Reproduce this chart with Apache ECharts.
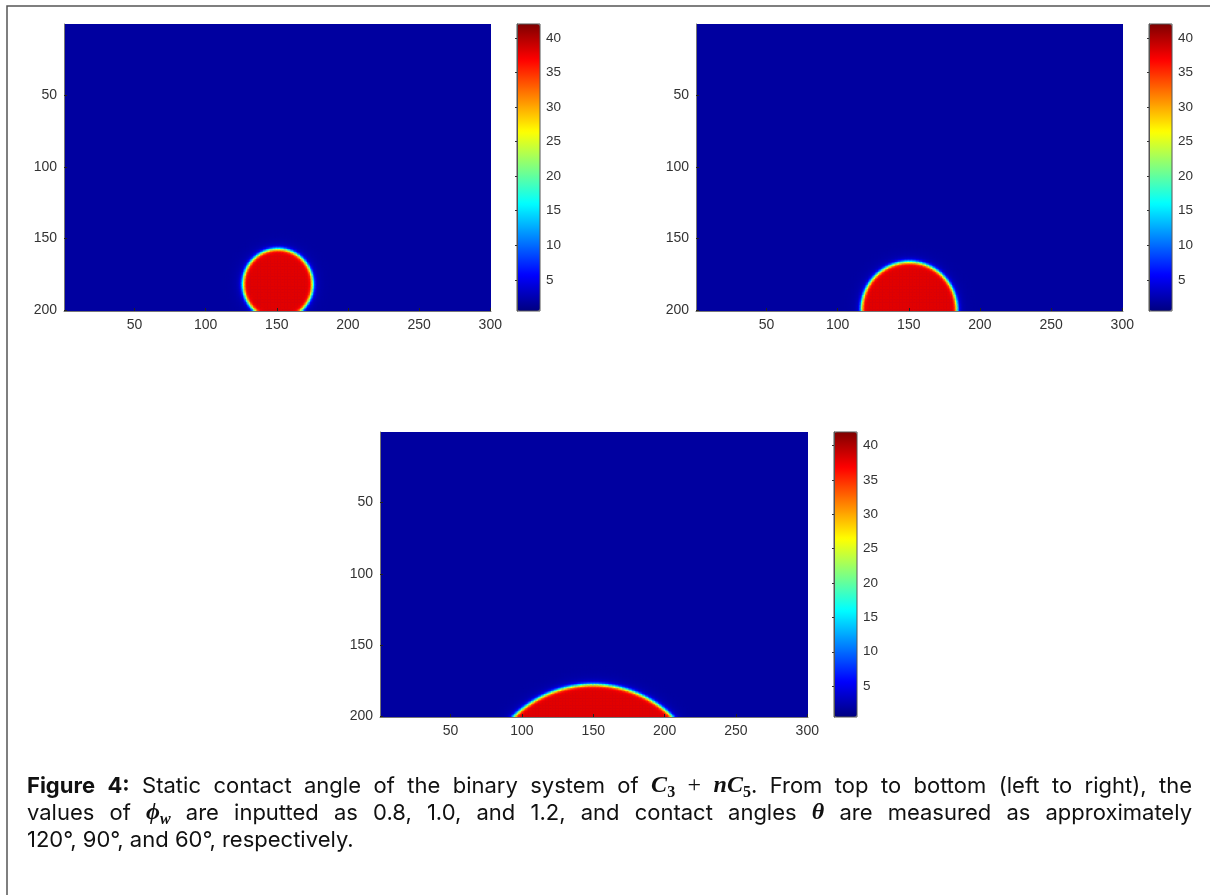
<!DOCTYPE html>
<html><head><meta charset="utf-8">
<script src="https://cdn.jsdelivr.net/npm/echarts@6/dist/echarts.min.js"></script>
<style>html,body{margin:0;padding:0;background:#fff}#chart{width:1210px;height:895px}</style>
</head><body><div id="chart"></div>
<script>
// ---------------- data ----------------
const xCategories = [];            // grid columns 1..300
for (let i = 1; i <= 300; i++) xCategories.push(String(i));
const yCategories = [];            // grid rows 1..200
for (let j = 1; j <= 200; j++) yCategories.push(String(j));
const xTickValues = [50, 100, 150, 200, 250, 300];
const yTickValues = [50, 100, 150, 200];
const colorbarTicks = [5, 10, 15, 20, 25, 30, 35, 40];
const colorMin = 0.5;
const colorMax = 42;
// droplet geometry for phi_w = 0.8, 1.0, 1.2
const dropCenterX = [151, 150.5, 150];
const dropCenterY = [182, 200, 258];
const dropRadius  = [24.5, 33.5, 80];
const dropValue = 38;       // value inside the droplet (red)
const ambientValue = 1.8;   // value of the surrounding phase (dark blue)
const interfaceWidth = 1.5; // diffuse interface thickness (cells)
const haloValue = 2.5;      // faint lighter blue halo outside the interface
const haloLength = 3;
const jetColors = ['#000080','#0000ff','#0080ff','#00ffff','#80ff80','#ffff00','#ff8000','#ff0000','#800000'];

const captionLines = [
  '{b|Figure} {b|4:} Static contact angle of the binary system of {m|C}{ms|3} {mr|+} {m|nC}{ms|5}. From top to bottom (left to right), the',
  'values of {m|ϕ}{mi|w} are inputted as 0.8, 1.0, and 1.2, and contact angles {m|θ} are measured as approximately',
  '120°, 90°, and 60°, respectively.'
];

// ---------------- build the fields ----------------
function buildField(p) {
  const out = [];
  for (let i = 1; i <= 300; i++) {
    for (let j = 1; j <= 200; j++) {
      const d = Math.hypot(i - dropCenterX[p], j - dropCenterY[p]);
      const s = (d - dropRadius[p]) / interfaceWidth;
      let v = ambientValue + (dropValue - ambientValue) * 0.5 * (1 - Math.tanh(s));
      if (d > dropRadius[p]) v += haloValue * Math.exp(-(d - dropRadius[p]) / haloLength);
      if (v - ambientValue > 0.03) out.push([i - 1, j - 1, v]);
    }
  }
  return out;
}
function jetColor(v) {
  let f = (v - colorMin) / (colorMax - colorMin);
  f = Math.max(0, Math.min(1, f)) * (jetColors.length - 1);
  const k = Math.min(jetColors.length - 2, Math.floor(f)), t = f - k;
  const a = jetColors[k], b = jetColors[k + 1];
  const c = [1, 3, 5].map(o => Math.round(parseInt(a.substr(o, 2), 16) * (1 - t) + parseInt(b.substr(o, 2), 16) * t));
  return 'rgb(' + c.join(',') + ')';
}
const ambientColor = jetColor(ambientValue);

// ---------------- layout ----------------
const plotBoxes = [
  {left: 64, top: 24, width: 427, height: 287},
  {left: 696, top: 24, width: 427, height: 287},
  {left: 380, top: 432, width: 428, height: 285}
];
const barBoxes = [
  {left: 517, top: 24, width: 23, height: 287},
  {left: 1149, top: 24, width: 23, height: 287},
  {left: 834, top: 432, width: 23, height: 285}
];
const AX_FONT = 'Liberation Sans';
const AX_COLOR = '#333';

const grids = [], xAxes = [], yAxes = [], series = [], visualMaps = [];
const xInt = (idx) => xTickValues.indexOf(idx + 1) >= 0;
const yInt = (idx) => yTickValues.indexOf(idx + 1) >= 0;
plotBoxes.forEach((b, p) => {
  grids.push(Object.assign({show: true, backgroundColor: ambientColor, borderWidth: 0}, b));
  xAxes.push({type: 'category', gridIndex: p, data: xCategories, position: 'bottom', z: 10,
    axisLine: {show: true, lineStyle: {color: '#777', width: 1}},
    axisTick: {show: true, inside: true, length: 3, alignWithLabel: true, interval: xInt, lineStyle: {color: '#222'}},
    axisLabel: {interval: xInt, color: AX_COLOR, fontFamily: AX_FONT, fontSize: 14, margin: 7},
    splitLine: {show: false}});
  yAxes.push({type: 'category', gridIndex: p, data: yCategories, inverse: true, z: 10,
    axisLine: {show: true, lineStyle: {color: '#777', width: 1}},
    axisTick: {show: true, inside: true, length: 3, alignWithLabel: true, interval: yInt, lineStyle: {color: '#222'}},
    axisLabel: {interval: yInt, color: AX_COLOR, fontFamily: AX_FONT, fontSize: 14, margin: 7},
    splitLine: {show: false}});
  series.push({type: 'heatmap', xAxisIndex: p, yAxisIndex: p, data: buildField(p),
    progressive: 0, animation: false, emphasis: {disabled: true}});
  visualMaps.push({type: 'continuous', seriesIndex: p, dimension: 2, min: colorMin, max: colorMax,
    inRange: {color: jetColors}, calculable: false, orient: 'vertical', padding: 0,
    itemWidth: barBoxes[p].width, itemHeight: barBoxes[p].height,
    left: barBoxes[p].left, top: barBoxes[p].top, hoverLink: false, text: null});
});
barBoxes.forEach((b, k) => {
  const gi = plotBoxes.length + k;
  grids.push(Object.assign({show: true, backgroundColor: 'transparent', borderColor: '#555', borderWidth: 1, z: 10}, b));
  xAxes.push({type: 'value', gridIndex: gi, show: false, min: 0, max: 1});
  yAxes.push({type: 'value', gridIndex: gi, min: colorMin, max: colorMax, position: 'right', z: 10,
    axisLine: {show: true, lineStyle: {color: '#555'}},
    axisTick: {show: true, inside: true, length: 2, customValues: colorbarTicks, lineStyle: {color: '#333'}},
    axisLabel: {customValues: colorbarTicks, color: AX_COLOR, fontFamily: AX_FONT, fontSize: 13.5, margin: 6},
    splitLine: {show: false}});
});

// ---------------- caption (justified, measured) ----------------
const CAP_FONT = 'Inter';
const CAP_SIZE = 22;
const capStyles = {
  r:  {fontFamily: CAP_FONT, fontSize: CAP_SIZE, fontWeight: 400, fontStyle: 'normal', dy: 0},
  b:  {fontFamily: CAP_FONT, fontSize: CAP_SIZE, fontWeight: 700, fontStyle: 'normal', dy: 0},
  m:  {fontFamily: 'Liberation Serif', fontSize: 24, fontWeight: 700, fontStyle: 'italic', dy: 0},
  mr: {fontFamily: 'Liberation Serif', fontSize: 24, fontWeight: 400, fontStyle: 'normal', dy: 0},
  ms: {fontFamily: 'Liberation Serif', fontSize: 16, fontWeight: 700, fontStyle: 'normal', dy: 7},
  mi: {fontFamily: 'Liberation Serif', fontSize: 16, fontWeight: 700, fontStyle: 'italic', dy: 7}
};
const capLeft = 27, capRight = 1192, capTop = 786, capLineGap = 27;
const mctx = document.createElement('canvas').getContext('2d');
function fontStr(s) { return s.fontStyle + ' ' + s.fontWeight + ' ' + s.fontSize + 'px "' + s.fontFamily + '"'; }
function measure(t, s) { mctx.font = fontStr(s); return mctx.measureText(t).width; }
const graphics = [{type: 'rect', silent: true, shape: {x: 7, y: 6, width: 1400, height: 1100},
  style: {fill: 'none', stroke: '#555', lineWidth: 1.5}, z: 0}];
captionLines.forEach((line, li) => {
  const words = line.split(' ').map(w => {
    const runs = []; const re = /\{(\w+)\|([^}]*)\}|([^{]+)/g; let m;
    while ((m = re.exec(w))) runs.push(m[1] ? {s: capStyles[m[1]], t: m[2]} : {s: capStyles.r, t: m[3]});
    runs.forEach(r => r.w = measure(r.t, r.s));
    return {runs, w: runs.reduce((a, r) => a + r.w, 0)};
  });
  const total = words.reduce((a, w) => a + w.w, 0);
  const justify = li < captionLines.length - 1;
  const gap = justify ? (capRight - capLeft - total) / (words.length - 1) : measure(' ', capStyles.r);
  let x = capLeft; const y = capTop + li * capLineGap;
  words.forEach(w => {
    w.runs.forEach(r => {
      graphics.push({type: 'text', x: x, y: y + r.s.dy, silent: true, style: {
        text: r.t, fill: '#111', fontFamily: r.s.fontFamily, fontSize: r.s.fontSize,
        fontWeight: r.s.fontWeight, fontStyle: r.s.fontStyle,
        align: 'left', verticalAlign: 'middle', textAlign: 'left', textVerticalAlign: 'middle'}});
      x += r.w;
    });
    x += gap;
  });
});

const chart = echarts.init(document.getElementById('chart'), null, {renderer: 'canvas'});
chart.setOption({
  animation: false,
  backgroundColor: '#fff',
  grid: grids, xAxis: xAxes, yAxis: yAxes, series: series, visualMap: visualMaps,
  graphic: {elements: graphics}
});
</script></body></html>
